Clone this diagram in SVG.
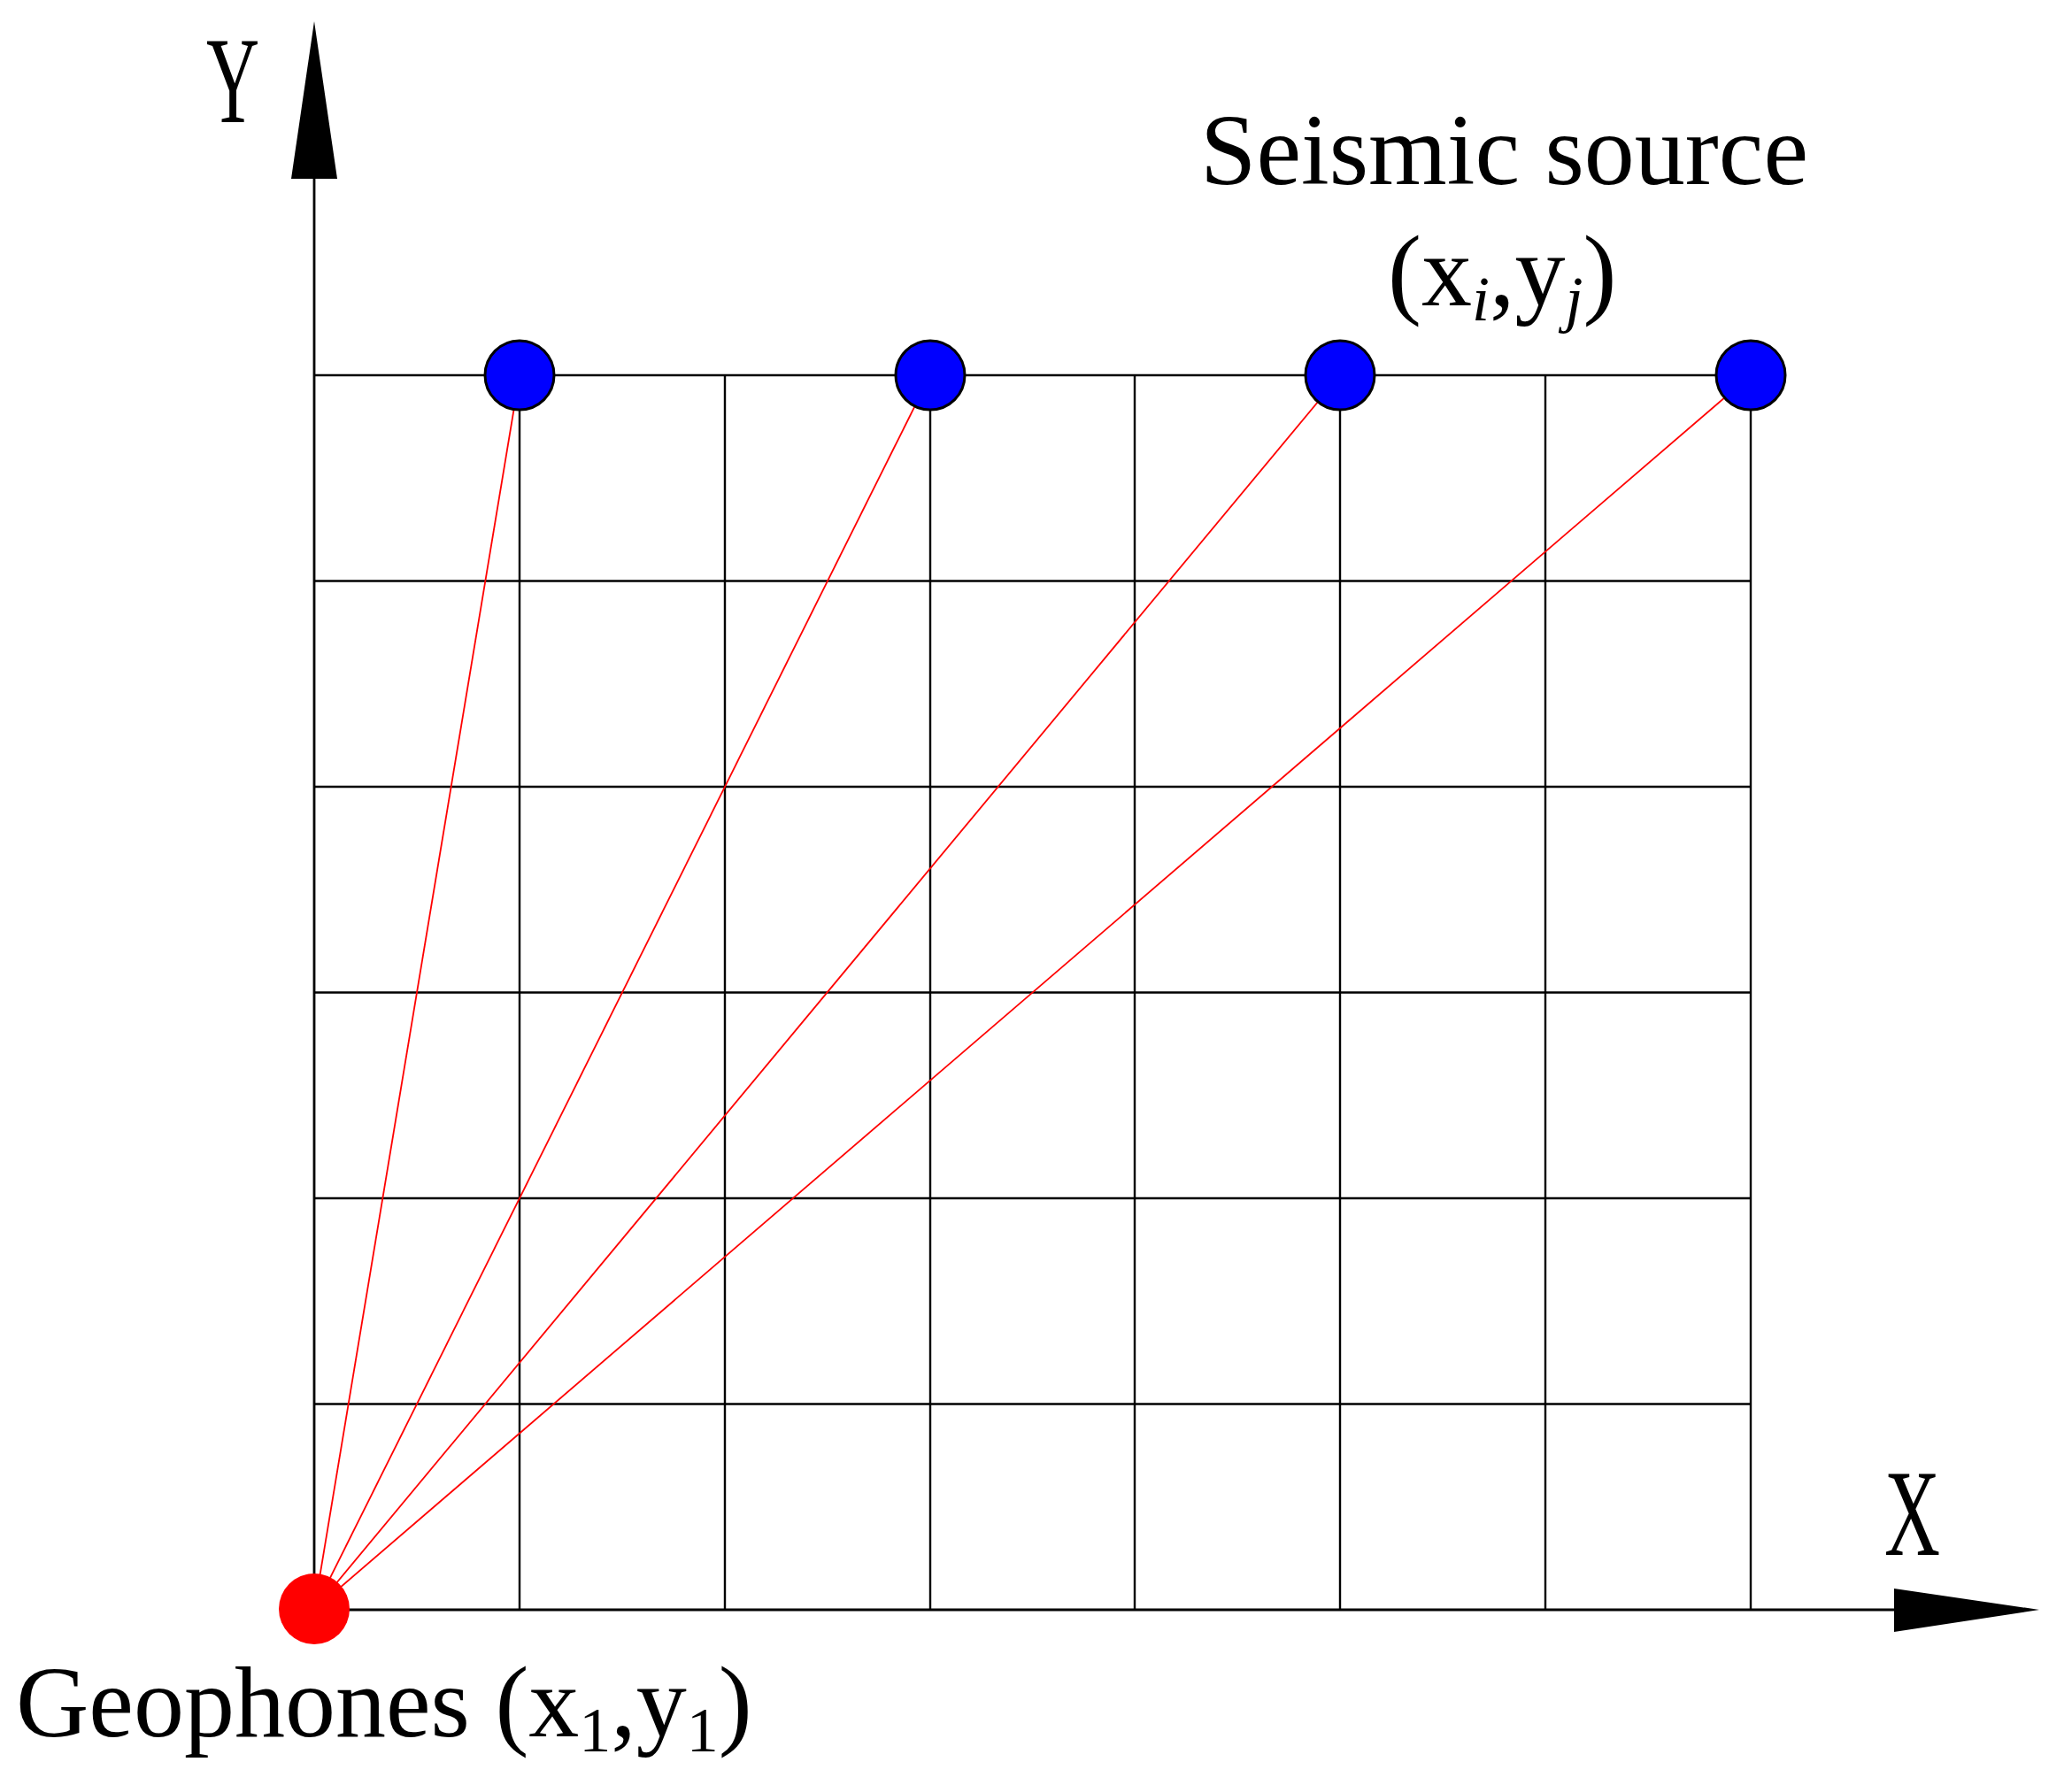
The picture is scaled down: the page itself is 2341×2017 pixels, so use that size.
<svg xmlns="http://www.w3.org/2000/svg" width="2341" height="2017" viewBox="0 0 2341 2017">
<style>
.grid{stroke:#000;stroke-width:2.4;fill:none}
.axis{stroke:#000;stroke-width:2.8;fill:none}
.head{fill:#000;stroke:none}
.ray{stroke:#ff0000;stroke-width:1.8;fill:none}
.src{fill:#0000ff;stroke:#000;stroke-width:3}
.geo{fill:#ff0000;stroke:none}
.t{font-family:"Liberation Serif","Times New Roman",serif;fill:#000}
</style>
<rect width="2341" height="2017" fill="#fff"/>
<g id="grid" class="grid">
<line x1="355" y1="424" x2="1978" y2="424"/>
<line x1="355" y1="656.5" x2="1978" y2="656.5"/>
<line x1="355" y1="889" x2="1978" y2="889"/>
<line x1="355" y1="1121.5" x2="1978" y2="1121.5"/>
<line x1="355" y1="1354" x2="1978" y2="1354"/>
<line x1="355" y1="1586.5" x2="1978" y2="1586.5"/>
<line x1="587" y1="424" x2="587" y2="1819"/>
<line x1="819" y1="424" x2="819" y2="1819"/>
<line x1="1051" y1="424" x2="1051" y2="1819"/>
<line x1="1282" y1="424" x2="1282" y2="1819"/>
<line x1="1514" y1="424" x2="1514" y2="1819"/>
<line x1="1746" y1="424" x2="1746" y2="1819"/>
<line x1="1978" y1="424" x2="1978" y2="1819"/>
</g>
<g id="axes">
<line class="axis" x1="355" y1="1819" x2="355" y2="200"/>
<line class="axis" x1="355" y1="1819" x2="2142" y2="1819"/>
<polygon class="head" points="355,24 329,202 381,202"/>
<polygon class="head" points="2304,1819 2140,1795 2140,1844"/>
<text class="t" x="233" y="138" font-size="140" textLength="60" lengthAdjust="spacingAndGlyphs">Y</text>
<text class="t" x="2129" y="1757" font-size="140" textLength="63" lengthAdjust="spacingAndGlyphs">X</text>
</g>
<g id="connectors">
<line class="ray" x1="355" y1="1819" x2="587" y2="424"/>
<line class="ray" x1="355" y1="1819" x2="1051" y2="424"/>
<line class="ray" x1="355" y1="1819" x2="1514" y2="424"/>
<line class="ray" x1="355" y1="1819" x2="1978" y2="424"/>
</g>
<g id="source1"><circle class="src" cx="587" cy="424" r="39"/></g>
<g id="source2"><circle class="src" cx="1051" cy="424" r="39"/></g>
<g id="source3"><circle class="src" cx="1514" cy="424" r="39"/></g>
<g id="source4"><circle class="src" cx="1978" cy="424" r="39"/></g>
<g id="source-label">
<text class="t" x="1356" y="208" font-size="114">Seismic source</text>
<text class="t" x="1568" y="345" font-size="114">(x<tspan font-size="72" font-style="italic" dy="17">i</tspan><tspan dy="-17">,y</tspan><tspan font-size="72" font-style="italic" dy="17">j</tspan><tspan dy="-17">)</tspan></text>
</g>
<g id="geophone">
<circle class="geo" cx="355" cy="1818" r="40"/>
<text class="t" x="18" y="1962" font-size="114">Geophones (x<tspan font-size="72" dy="17">1</tspan><tspan dy="-17">,y</tspan><tspan font-size="72" dy="17">1</tspan><tspan dy="-17">)</tspan></text>
</g>
</svg>
